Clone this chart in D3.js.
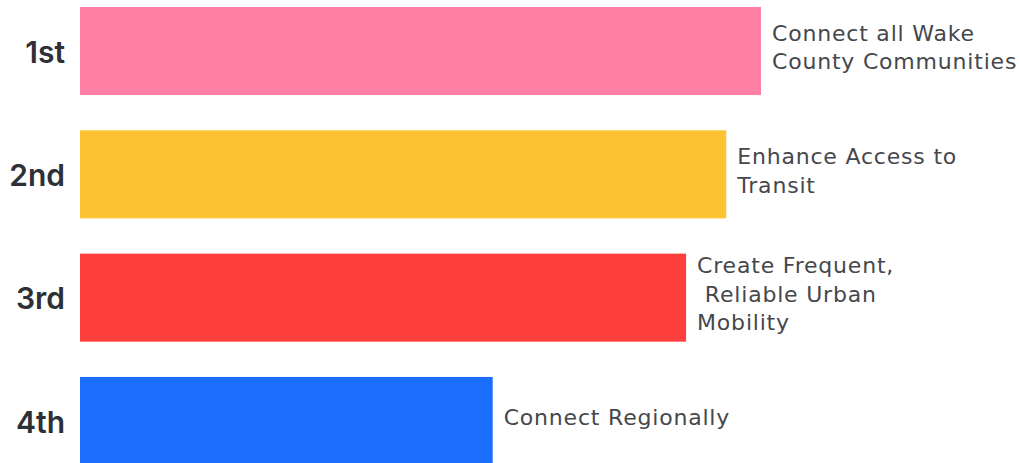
<!DOCTYPE html>
<html>
<head>
<meta charset="utf-8">
<script src="https://cdn.jsdelivr.net/npm/d3@7"></script>
<style>
	body { margin: 0; background: #fff; }
	svg { display: block; }
</style>
</head>
<body>
<svg id="chart" width="1020" height="463"></svg>
<script>
const ranks = ['1st', '2nd', '3rd', '4th'];
const scores = [100, 94.9, 89.0, 60.6];
const goals = [
	['Connect all Wake', 'County Communities'],
	['Enhance Access to', 'Transit'],
	['Create Frequent,', ' Reliable Urban', 'Mobility'],
	['Connect Regionally'],
];
const colors = ['#ff7fa5', '#fdc232', '#ff3f3d', '#1a6dfd'];

const svg = d3.select('#chart');

const x = d3.scaleLinear().domain([0, 100]).range([80, 761]);
const y = d3.scaleBand().domain(ranks).range([7, 465]).paddingInner(0.286).paddingOuter(0);

const rows = ranks.map((r, i) => ({ rank: r, score: scores[i], goal: goals[i], color: colors[i] }));

svg.append('g').selectAll('rect')
	.data(rows)
	.join('rect')
	.attr('x', x(0))
	.attr('y', d => y(d.rank))
	.attr('width', d => x(d.score) - x(0))
	.attr('height', y.bandwidth())
	.attr('fill', d => d.color);

svg.append('g').selectAll('text')
	.data(rows)
	.join('text')
	.attr('x', 65)
	.attr('y', d => y(d.rank) + y.bandwidth() / 2 + 1)
	.attr('dy', '0.36em')
	.attr('text-anchor', 'end')
	.style('font-family', 'Inter, sans-serif')
	.style('font-weight', 600)
	.style('font-size', '30px')
	.attr('fill', '#2d3036')
	.text(d => d.rank);

// goal labels, one tspan per line, block centred a little above the bar middle
const lineH = 28.5;
const goalText = svg.append('g').selectAll('text')
	.data(rows)
	.join('text')
	.attr('y', d => y(d.rank) + y.bandwidth() / 2 - 4 - (d.goal.length - 1) * lineH / 2)
	.style('font-family', '"DejaVu Sans", sans-serif')
	.style('font-size', '22px')
	.style('letter-spacing', '0.8px')
	.style('white-space', 'pre')
	.attr('fill', '#45474c');

goalText.selectAll('tspan')
	.data(d => d.goal.map((t, i) => ({ t, i, x: x(d.score) + 11 })))
	.join('tspan')
	.attr('x', d => d.x)
	.attr('dy', d => d.i === 0 ? '0.36em' : lineH)
	.text(d => d.t);
</script>
</body>
</html>
